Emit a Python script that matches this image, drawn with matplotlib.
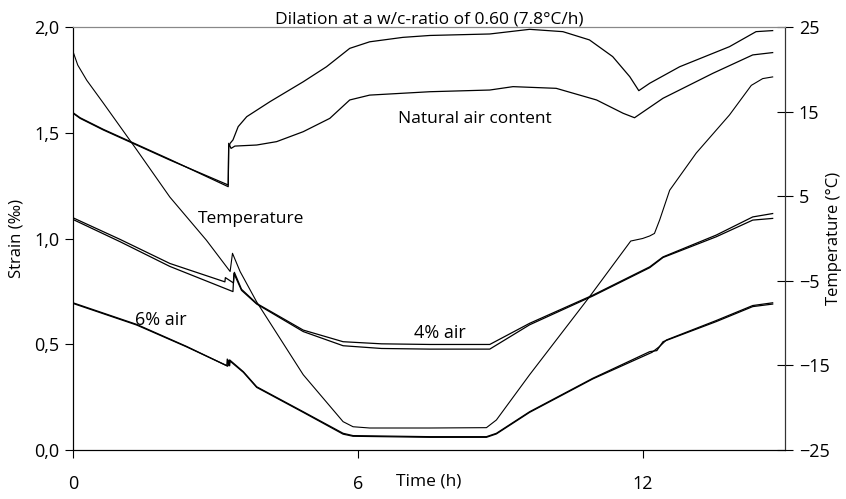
import numpy as np
import matplotlib
matplotlib.use("Agg")
import matplotlib.pyplot as plt
from matplotlib.ticker import FuncFormatter

plt.rcParams['font.family'] = ['Open Sans', 'DejaVu Sans']

# natural air content, two specimens (strain in per mille)
nat_a_h = [0, 0.15, 0.64, 2.04, 3.27, 3.28, 3.31, 3.37, 3.48, 3.66, 4.15, 4.85, 5.34, 5.83,
           6.25, 6.95, 7.52, 8.78, 9.62, 10.32, 10.88, 11.37, 11.73, 11.92, 12.15, 12.78,
           13.83, 14.39, 14.74]
nat_a_s = [1.592, 1.568, 1.513, 1.371, 1.253, 1.43, 1.45, 1.466, 1.529, 1.576, 1.647, 1.741,
           1.812, 1.899, 1.93, 1.951, 1.96, 1.967, 1.989, 1.978, 1.939, 1.86, 1.765, 1.699,
           1.734, 1.812, 1.907, 1.978, 1.983]
nat_b_h = [0, 0.15, 0.64, 2.04, 3.27, 3.28, 3.33, 3.41, 3.87, 4.29, 4.85, 5.41, 5.83, 6.25,
           7.52, 8.78, 9.27, 10.18, 11.03, 11.59, 11.83, 12.43, 13.48, 14.32, 14.74]
nat_b_s = [1.595, 1.571, 1.516, 1.374, 1.245, 1.45, 1.426, 1.437, 1.442, 1.458, 1.505, 1.568,
           1.655, 1.678, 1.694, 1.702, 1.718, 1.71, 1.655, 1.592, 1.571, 1.663, 1.781, 1.868,
           1.879]

# 4% air
a4_a_h = [0, 0.99, 2.04, 3.20, 3.21, 3.38, 3.40, 3.55, 3.87, 4.85, 5.69, 6.5, 7.52, 8.78,
          9.62, 10.95, 12.15, 12.43, 13.55, 14.32, 14.74]
a4_a_s = [1.098, 0.996, 0.882, 0.795, 0.815, 0.79, 0.84, 0.76, 0.693, 0.567, 0.512, 0.502,
          0.499, 0.499, 0.599, 0.732, 0.866, 0.913, 1.016, 1.102, 1.118]
a4_b_h = [0, 0.99, 2.04, 3.37, 3.39, 3.55, 3.87, 4.85, 5.69, 6.5, 7.52, 8.78, 9.62, 10.95,
          12.15, 12.43, 13.55, 14.32, 14.74]
a4_b_s = [1.09, 0.985, 0.868, 0.749, 0.835, 0.755, 0.69, 0.56, 0.493, 0.48, 0.477, 0.477,
          0.592, 0.728, 0.862, 0.91, 1.008, 1.087, 1.095]

# 6% air
a6_a_h = [0, 1.34, 2.39, 3.24, 3.25, 3.28, 3.30, 3.59, 3.87, 4.85, 5.69, 5.9, 7.52, 8.71,
          8.92, 9.62, 10.95, 12.15, 12.3, 12.43, 13.55, 14.32, 14.74]
a6_a_s = [0.693, 0.591, 0.488, 0.399, 0.43, 0.40, 0.426, 0.37, 0.299, 0.181, 0.079, 0.068,
          0.063, 0.063, 0.079, 0.181, 0.339, 0.465, 0.47, 0.512, 0.607, 0.678, 0.69]
a6_b_h = [0, 1.34, 2.39, 3.26, 3.27, 3.30, 3.31, 3.59, 3.87, 4.85, 5.69, 5.9, 7.52, 8.71,
          8.92, 9.62, 10.95, 12.2, 12.35, 12.5, 13.55, 14.32, 14.74]
a6_b_s = [0.696, 0.594, 0.49, 0.396, 0.425, 0.398, 0.42, 0.367, 0.296, 0.178, 0.075, 0.065,
          0.06, 0.06, 0.076, 0.178, 0.336, 0.462, 0.488, 0.52, 0.612, 0.683, 0.696]

# temperature (right axis)
temp_h = [0, 0.1, 0.29, 0.64, 1.34, 2.04, 2.81, 3.31, 3.36, 3.52, 3.87, 4.85, 5.69, 5.9,
          6.25, 7.52, 8.71, 8.92, 9.62, 10.88, 11.75, 12.0, 12.15, 12.25, 12.36, 12.57,
          13.13, 13.83, 14.29, 14.53, 14.74]
temp_c = [22.1, 20.5, 18.7, 16.0, 10.5, 4.9, -0.2, -3.9, -1.75, -3.9, -7.5, -16.1, -21.65,
          -22.25, -22.4, -22.4, -22.36, -21.45, -16.1, -6.9, -0.3, 0.0, 0.3, 0.6, 2.2, 5.7,
          10.1, 14.6, 18.1, 18.9, 19.1]

fig = plt.figure(figsize=(8.46, 4.99), dpi=100)
ax = fig.add_axes([73 / 846, 49 / 499, 712 / 846, 423 / 499])
ax2 = ax.twinx()

lw = 0.9
for h, s in [(nat_a_h, nat_a_s), (nat_b_h, nat_b_s), (a4_a_h, a4_a_s),
             (a4_b_h, a4_b_s), (a6_a_h, a6_a_s), (a6_b_h, a6_b_s)]:
    ax.plot(h, s, color='black', lw=lw)
ax2.plot(temp_h, temp_c, color='black', lw=0.8)

ax.set_xlim(0, 15)
ax.set_ylim(0, 2.0)
ax2.set_ylim(-25, 25)
ax.set_xticks([0, 6, 12])
ax.set_yticks([0, 0.5, 1.0, 1.5, 2.0])
ax2.set_yticks([-25, -15, -5, 5, 15, 25])
ax.yaxis.set_major_formatter(FuncFormatter(lambda v, p: f"{v:.1f}".replace('.', ',')))

ax.tick_params(axis='y', direction='out', length=6, width=0.8, labelsize=13, pad=4)
ax.tick_params(axis='x', direction='out', length=6, width=0.8, labelsize=13, pad=12)
ax2.tick_params(axis='y', direction='inout', length=12, width=0.8, labelsize=13, pad=4)

for a in (ax, ax2):
    a.spines['top'].set_color('#888888')
    a.spines['top'].set_linewidth(0.8)
    a.spines['left'].set_linewidth(0.8)
    a.spines['bottom'].set_linewidth(0.8)
    a.spines['right'].set_color('#333333')
    a.spines['right'].set_linewidth(0.8)

ax.set_xlabel("Time (h)", fontsize=12.5)
ax.xaxis.set_label_coords(0.5, -0.075)
ax.xaxis.label.set_va('center')
ax.set_ylabel("Strain (‰)", fontsize=12)
ax.yaxis.set_label_coords(-0.079, 0.5)
ax.yaxis.label.set_va('center')
ax2.set_ylabel("Temperature (°C)", fontsize=12)
ax2.yaxis.set_label_coords(1.069, 0.5)
ax2.yaxis.label.set_va('center')

ax.set_title("Dilation at a w/c-ratio of 0.60 (7.8°C/h)", fontsize=12.5, pad=2)

ax.text(8.46, 1.565, "Natural air content", fontsize=12.5, ha='center', va='center')
ax.text(3.75, 1.09, "Temperature", fontsize=12.5, ha='center', va='center')
ax.text(1.85, 0.614, "6% air", fontsize=13, ha='center', va='center')
ax.text(7.73, 0.553, "4% air", fontsize=13, ha='center', va='center')

fig.savefig("out.png", dpi=100)
